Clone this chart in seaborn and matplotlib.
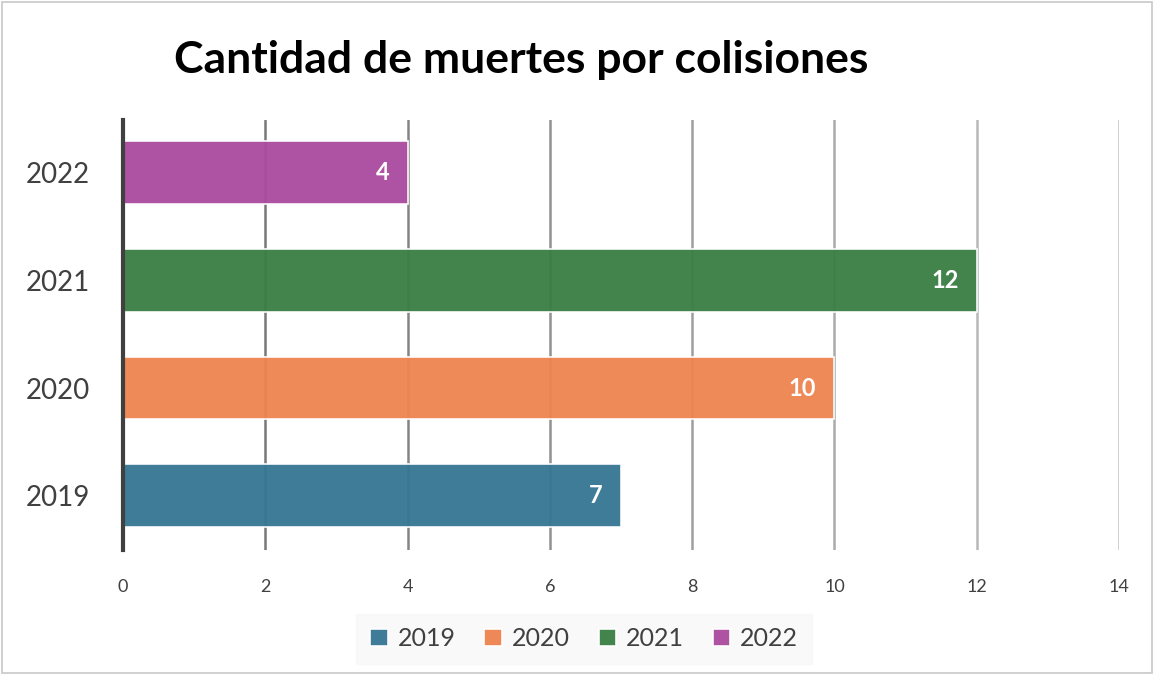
import pandas as pd
import numpy as np
import matplotlib.pyplot as plt
import seaborn as sns

# datos
anios = ['2019', '2020', '2021', '2022']
muertes = [7, 10, 12, 4]
colores = ['#367794', '#EE8550', '#3A7F44', '#AB4B9F']
ticks_x = [0, 2, 4, 6, 8, 10, 12, 14]

df = pd.DataFrame({'Anio': anios, 'Muertes': muertes})

sns.set_style('white')
plt.rcParams['font.family'] = ['Lato', 'DejaVu Sans']

fig = plt.figure(figsize=(11.54, 6.75), dpi=100)
ax = fig.add_axes([0.1066, 0.1852, 0.8631, 0.637])

sns.barplot(data=df, y='Anio', x='Muertes', hue='Anio', hue_order=anios,
            order=anios[::-1], palette=colores, saturation=1, dodge=False,
            orient='h', width=0.585, alpha=0.96, edgecolor='white',
            linewidth=1.2, legend=True, ax=ax, zorder=2)

ax.set_xlim(0, 14)
ax.set_ylim(3.505, -0.49)

# grilla vertical, mas clara hacia la derecha
for t in ticks_x[1:]:
    v = 0.42 + 0.025 * t
    ax.axvline(t, color=(v, v, v), lw=1.8, zorder=1)

ax.set_xticks(ticks_x)
ax.tick_params(axis='x', labelsize=13, colors='#404040', length=0, pad=21)
ax.tick_params(axis='y', labelsize=20, colors='#404040', length=0, pad=24)
ax.set_xlabel('')
ax.set_ylabel('')
for s in ['top', 'right', 'bottom']:
    ax.spines[s].set_visible(False)
ax.spines['left'].set_color('#404040')
ax.spines['left'].set_linewidth(3)
ax.spines['left'].set_zorder(5)

# etiquetas de valor
for c in ax.containers:
    etiquetas = ax.bar_label(c, fmt='%d', padding=-13, color='white',
                             fontsize=17, fontweight='bold')
    for e in etiquetas:
        e.set_ha('right')

fig.text(0.452, 0.911, 'Cantidad de muertes por colisiones', ha='center',
         va='center', fontsize=32, fontweight='bold', color='black')

ax.legend(loc='center', bbox_to_anchor=(0.463, -0.207), ncol=4, frameon=True,
          facecolor='#f8f8f8', edgecolor='#f8f8f8', fancybox=False,
          fontsize=18, handlelength=0.7, handleheight=0.7, handletextpad=0.4,
          columnspacing=1.15, borderpad=0.55, labelcolor='#404040')

# borde de la figura
fig.patches.append(plt.Rectangle((0.002, 0.003), 0.996, 0.994, fill=False,
                                 edgecolor='#c8c8c8', lw=1.2,
                                 transform=fig.transFigure))

fig.savefig('out.png', dpi=100)
